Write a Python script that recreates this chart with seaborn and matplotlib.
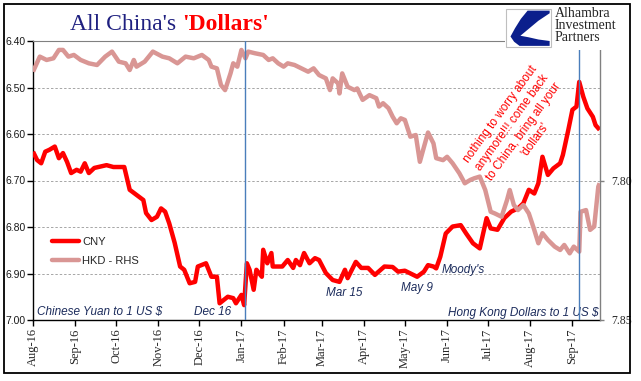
import numpy as np
import pandas as pd
import matplotlib
matplotlib.use('Agg')
import matplotlib.pyplot as plt
import matplotlib.dates as mdates
from matplotlib.patches import Rectangle, Polygon
from matplotlib.lines import Line2D
import seaborn as sns

# ---------------- data ----------------
cny_dates = ['2016-08-01', '2016-08-04', '2016-08-07', '2016-08-10', '2016-08-13', '2016-08-17',
             '2016-08-20', '2016-08-23', '2016-08-26', '2016-08-29', '2016-09-02', '2016-09-05',
             '2016-09-08', '2016-09-11', '2016-09-15', '2016-09-24', '2016-09-29', '2016-10-07',
             '2016-10-11', '2016-10-16', '2016-10-21', '2016-10-23', '2016-10-27', '2016-10-31',
             '2016-11-03', '2016-11-06', '2016-11-09', '2016-11-13', '2016-11-17', '2016-11-20',
             '2016-11-24', '2016-11-28', '2016-11-30', '2016-12-06', '2016-12-10', '2016-12-14',
             '2016-12-16', '2016-12-22', '2016-12-26', '2016-12-28', '2017-01-01', '2017-01-03',
             '2017-01-05', '2017-01-07', '2017-01-10', '2017-01-12', '2017-01-16', '2017-01-17',
             '2017-01-20', '2017-01-23', '2017-01-24', '2017-01-31', '2017-02-04', '2017-02-08',
             '2017-02-10', '2017-02-13', '2017-02-16', '2017-02-20', '2017-02-24', '2017-02-27',
             '2017-03-04', '2017-03-09', '2017-03-14', '2017-03-18', '2017-03-20', '2017-03-26',
             '2017-03-30', '2017-04-04', '2017-04-09', '2017-04-16', '2017-04-22', '2017-04-26',
             '2017-05-01', '2017-05-10', '2017-05-15', '2017-05-18', '2017-05-22', '2017-05-24',
             '2017-05-27', '2017-05-31', '2017-06-05', '2017-06-11', '2017-06-15', '2017-06-20',
             '2017-06-25', '2017-06-30', '2017-07-03', '2017-07-08', '2017-07-13', '2017-07-18',
             '2017-07-23', '2017-07-27', '2017-07-31', '2017-08-04', '2017-08-07', '2017-08-10',
             '2017-08-14', '2017-08-18', '2017-08-23', '2017-08-25', '2017-08-29', '2017-09-01',
             '2017-09-04', '2017-09-06', '2017-09-09', '2017-09-12', '2017-09-16', '2017-09-18',
             '2017-09-21']
cny_values = [6.638, 6.656, 6.663, 6.638, 6.634, 6.627,
              6.652, 6.641, 6.660, 6.684, 6.677, 6.681,
              6.663, 6.684, 6.673, 6.667, 6.671, 6.671,
              6.720, 6.731, 6.742, 6.770, 6.785, 6.778,
              6.760, 6.767, 6.792, 6.834, 6.885, 6.892,
              6.921, 6.918, 6.885, 6.878, 6.907, 6.907,
              6.964, 6.950, 6.953, 6.964, 6.946, 6.968,
              6.878, 6.892, 6.935, 6.892, 6.907, 6.849,
              6.878, 6.856, 6.885, 6.885, 6.871, 6.888,
              6.871, 6.882, 6.856, 6.878, 6.867, 6.871,
              6.899, 6.914, 6.918, 6.892, 6.910, 6.875,
              6.888, 6.888, 6.903, 6.885, 6.886, 6.896,
              6.894, 6.907, 6.896, 6.882, 6.885, 6.889,
              6.864, 6.814, 6.799, 6.796, 6.814, 6.835,
              6.846, 6.781, 6.803, 6.806, 6.781, 6.767,
              6.760, 6.749, 6.720, 6.728, 6.706, 6.649,
              6.688, 6.674, 6.663, 6.645, 6.591, 6.548,
              6.541, 6.488, 6.520, 6.545, 6.563, 6.581,
              6.591]

hkd_dates = ['2016-08-01', '2016-08-06', '2016-08-11', '2016-08-16', '2016-08-20', '2016-08-23',
             '2016-08-27', '2016-08-31', '2016-09-05', '2016-09-11', '2016-09-17', '2016-09-23',
             '2016-09-28', '2016-10-03', '2016-10-08', '2016-10-11', '2016-10-14', '2016-10-16',
             '2016-10-22', '2016-10-28', '2016-11-04', '2016-11-09', '2016-11-15', '2016-11-21',
             '2016-11-27', '2016-12-03', '2016-12-08', '2016-12-10', '2016-12-14', '2016-12-17',
             '2016-12-20', '2016-12-24', '2016-12-26', '2016-12-29', '2017-01-01', '2017-01-04',
             '2017-01-06', '2017-01-11', '2017-01-17', '2017-01-21', '2017-01-24', '2017-01-28',
             '2017-02-01', '2017-02-04', '2017-02-09', '2017-02-14', '2017-02-19', '2017-02-23',
             '2017-02-27', '2017-03-04', '2017-03-07', '2017-03-09', '2017-03-13', '2017-03-14',
             '2017-03-16', '2017-03-20', '2017-03-25', '2017-03-27', '2017-03-31', '2017-04-05',
             '2017-04-10', '2017-04-12', '2017-04-15', '2017-04-19', '2017-04-22', '2017-04-25',
             '2017-04-28', '2017-05-01', '2017-05-05', '2017-05-09', '2017-05-12', '2017-05-15',
             '2017-05-18', '2017-05-22', '2017-05-24', '2017-05-29', '2017-06-01', '2017-06-05',
             '2017-06-10', '2017-06-14', '2017-06-18', '2017-06-21', '2017-06-25', '2017-06-29',
             '2017-07-03', '2017-07-06', '2017-07-11', '2017-07-15', '2017-07-17', '2017-07-20',
             '2017-07-23', '2017-07-27', '2017-07-31', '2017-08-04', '2017-08-07', '2017-08-10',
             '2017-08-14', '2017-08-19', '2017-08-23', '2017-08-26', '2017-08-30', '2017-09-02',
             '2017-09-06', '2017-09-07', '2017-09-11', '2017-09-14', '2017-09-17', '2017-09-20',
             '2017-09-21']
hkd_values = [7.7610, 7.7556, 7.7568, 7.7562, 7.7532, 7.7532,
              7.7556, 7.7550, 7.7568, 7.7580, 7.7586, 7.7556,
              7.7538, 7.7574, 7.7580, 7.7604, 7.7568, 7.7592,
              7.7574, 7.7538, 7.7556, 7.7562, 7.7580, 7.7556,
              7.7562, 7.7550, 7.7568, 7.7592, 7.7598, 7.7658,
              7.7676, 7.7616, 7.7580, 7.7592, 7.7532, 7.7562,
              7.7538, 7.7544, 7.7550, 7.7568, 7.7562, 7.7580,
              7.7592, 7.7580, 7.7586, 7.7598, 7.7610, 7.7598,
              7.7622, 7.7634, 7.7676, 7.7634, 7.7652, 7.7688,
              7.7616, 7.7664, 7.7676, 7.7670, 7.7711, 7.7694,
              7.7705, 7.7735, 7.7723, 7.7741, 7.7771, 7.7795,
              7.7777, 7.7783, 7.7843, 7.7837, 7.7933, 7.7880,
              7.7828, 7.7867, 7.7920, 7.7927, 7.7915, 7.7938,
              7.7974, 7.8010, 7.7998, 7.7992, 7.7986, 7.8034,
              7.8112, 7.8118, 7.8130, 7.8070, 7.8034, 7.8088,
              7.8106, 7.8088, 7.8118, 7.8177, 7.8225, 7.8189,
              7.8213, 7.8237, 7.8249, 7.8231, 7.8261, 7.8237,
              7.8255, 7.8112, 7.8106, 7.8177, 7.8165, 7.8022,
              7.8010]

cny_ticks = [6.40, 6.50, 6.60, 6.70, 6.80, 6.90, 7.00]
hkd_ticks = [7.80, 7.85]
event_dates = ['2017-01-04', '2017-09-06']
series_labels = ['CNY', 'HKD - RHS']
title_main = "All China's "
title_accent = "'Dollars'"
note_text = "nothing to worry about\nanymore!!! come back\nto China, bring all your\n'dollars'"
date_notes = [('Dec 16', '2016-11-27', 6.983),
              ('Mar 15', '2017-03-04', 6.942),
              ('May 9', '2017-04-28', 6.931),
              ("Moody's", '2017-05-28', 6.892)]
logo_lines = ['Alhambra', 'Investment', 'Partners']

# ---------------- style ----------------
sns.set_style('white')
plt.rcParams['font.family'] = ['Liberation Sans', 'DejaVu Sans']

W, H = 641, 381
fig = plt.figure(figsize=(W / 100, H / 100), dpi=100)
L, R, T, B = 33, 600, 41, 320
ax = fig.add_axes([L / W, 1 - B / H, (R - L) / W, (B - T) / H])
ax2 = ax.twinx()

cny = pd.DataFrame({'date': pd.to_datetime(cny_dates), 'value': cny_values})
hkd = pd.DataFrame({'date': pd.to_datetime(hkd_dates), 'value': hkd_values})

cny_color = '#FF0000'
hkd_color = '#D99694'
sns.lineplot(data=cny, x='date', y='value', ax=ax, color=cny_color, lw=3.2,
             legend=False, solid_joinstyle='round', solid_capstyle='butt', zorder=3)
sns.lineplot(data=hkd, x='date', y='value', ax=ax2, color=hkd_color, lw=3.2,
             legend=False, solid_joinstyle='round', solid_capstyle='butt', zorder=3)

x0 = pd.Timestamp('2016-08-01')
x1 = pd.Timestamp('2017-09-21 06:00')
ax.set_xlim(x0, x1)
ax.set_ylim(7.00, 6.40)
ax2.set_ylim(7.85, 7.75)
ax.set_xlabel('')
ax.set_ylabel('')
ax2.set_ylabel('')

ax.set_yticks(cny_ticks)
ax.yaxis.set_major_formatter(matplotlib.ticker.FormatStrFormatter('%.2f'))
ax2.set_yticks(hkd_ticks)
ax2.yaxis.set_major_formatter(matplotlib.ticker.FormatStrFormatter('%.2f'))
ax.xaxis.set_major_locator(mdates.MonthLocator())
ax.xaxis.set_major_formatter(mdates.DateFormatter('%b-%y'))

for v in cny_ticks[1:-1]:
    ax.axhline(v, color='#A6A6A6', lw=0.7, ls=(0, (2.5, 2)), zorder=1)

# spines
for s in ['left', 'bottom']:
    ax.spines[s].set_color('black')
    ax.spines[s].set_linewidth(1.0)
ax.spines['top'].set_color('#808080')
ax.spines['right'].set_visible(False)
for s in ['left', 'top', 'bottom']:
    ax2.spines[s].set_visible(False)
ax2.spines['right'].set_color('#808080')
ax2.spines['right'].set_linewidth(1.0)

ax.tick_params(axis='y', direction='out', length=4, width=1, color='black',
               labelsize=7.5, pad=1.5, left=True, labelcolor='#1a1a1a')
ax.tick_params(axis='x', direction='out', length=4, width=1, color='black',
               labelsize=9, rotation=90, pad=2, labelfontfamily='Liberation Serif', bottom=True)
ax2.tick_params(axis='y', direction='out', length=3, width=1, color='#808080',
                labelsize=8.5, pad=5, labelfontfamily='Liberation Serif', right=True)

for d in event_dates:
    ax2.axvline(pd.Timestamp(d), color='#4A7EBB', lw=1.0, zorder=6)

# legend
handles = [Line2D([], [], color=cny_color, lw=3.2), Line2D([], [], color=hkd_color, lw=3.2)]
leg = ax2.legend(handles, series_labels, loc='center left',
                 bbox_to_anchor=((52 - L) / (R - L), (B - 251.5) / (B - T)),
                 frameon=False, fontsize=8, handlelength=2.4, handletextpad=0.3,
                 labelspacing=0.85, borderpad=0, borderaxespad=0)
for t in leg.get_texts():
    t.set_color('#262626')

# annotations
note_color = '#1C2C5C'
note_font = ['Liberation Sans', 'DejaVu Sans']
ax.text((37 - L) / (R - L), (B - 312) / (B - T), 'Chinese Yuan to 1 US $',
        transform=ax.transAxes, ha='left', va='center', fontsize=8.5,
        style='italic', family=note_font, color=note_color, zorder=7)
ax.text((598 - L) / (R - L), (B - 313) / (B - T), 'Hong Kong Dollars to 1 US $',
        transform=ax.transAxes, ha='right', va='center', fontsize=8.5,
        style='italic', family=note_font, color=note_color, zorder=7)
for txt, d, yv in date_notes:
    ax.text(pd.Timestamp(d), yv, txt, ha='left', va='center', fontsize=8.5,
            style='italic', family=note_font, color=note_color, zorder=7)

ax2.text((518 - L) / (R - L), (B - 127) / (B - T), note_text, transform=ax2.transAxes,
         ha='center', va='center', rotation=54, rotation_mode='anchor',
         multialignment='center', fontsize=8.5, family=note_font, color='#FF0000',
         linespacing=1.3, zorder=7)

# ---------------- title & logo ----------------
def fx(px):
    return px / W

def fy(py):
    return 1 - py / H

t1 = fig.text(fx(70), fy(30), title_main, ha='left', va='baseline', fontsize=17,
              family='Liberation Serif', color='#1F2080')
ax.annotate(title_accent, xy=(1, 0), xycoords=t1, ha='left', va='bottom',
            fontsize=17, family='Liberation Serif', fontweight='bold', color='#FF0000',
            annotation_clip=False)

# white area behind logo (covers top spine there)
fig.patches.append(Rectangle((fx(505), fy(50)), fx(631) - fx(505), fy(5) - fy(50),
                             transform=fig.transFigure, facecolor='white',
                             edgecolor='none', zorder=8))
bx0, by0, bw, bh = 506, 9.5, 45, 37.5
fig.patches.append(Rectangle((fx(bx0), fy(by0 + bh)), bw / W, bh / H,
                             transform=fig.transFigure, facecolor='white',
                             edgecolor='#BFBFBF', lw=0.8, zorder=9))
shape = [(0.48, 0.03), (0.97, 0.03), (0.97, 0.10), (0.72, 0.30), (0.50, 0.52),
         (0.32, 0.70), (0.50, 0.74), (0.72, 0.80), (0.97, 0.84), (0.97, 0.97),
         (0.30, 0.97), (0.18, 0.86), (0.10, 0.72), (0.20, 0.50), (0.33, 0.25)]
pts = [(fx(bx0 + u * bw), fy(by0 + v * bh)) for u, v in shape]
fig.patches.append(Polygon(pts, closed=True, transform=fig.transFigure,
                           facecolor='#0B1F8C', edgecolor='none', zorder=10))
fig.text(fx(555), fy(7), '\n'.join(logo_lines), ha='left', va='top', fontsize=10,
         family='Liberation Serif', color='#262626', linespacing=0.92, zorder=11)

# outer frame
fig.patches.append(Rectangle((fx(4), fy(373)), (630 - 4) / W, (373 - 4) / H,
                             transform=fig.transFigure, fill=False,
                             edgecolor='black', lw=1.3, zorder=12))

fig.savefig('out.png', dpi=100)
